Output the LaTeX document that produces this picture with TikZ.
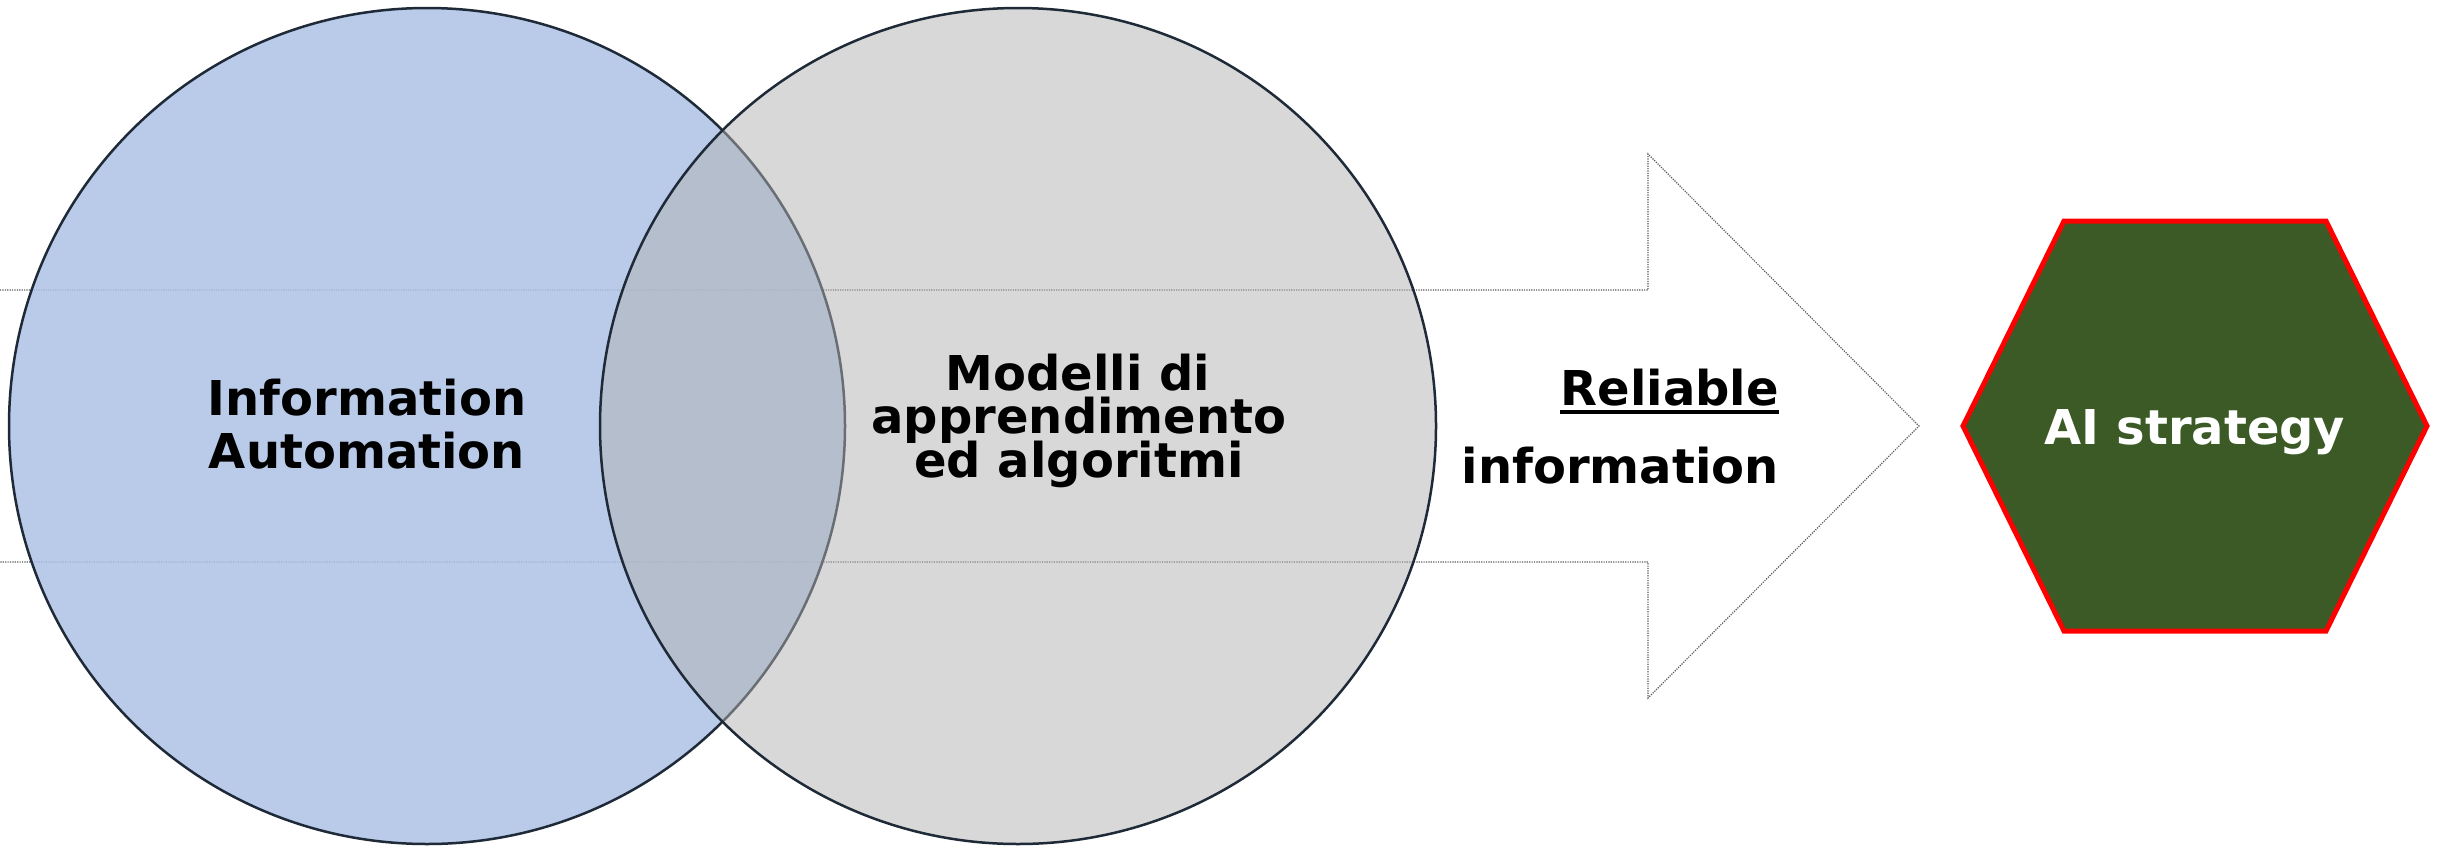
\documentclass[tikz,border=0pt]{standalone}
\usepackage{fontspec}
\setmainfont{DejaVu Sans}
\definecolor{bluefill}{HTML}{ADC2E6}
\definecolor{grayfill}{HTML}{B3B3B3}
\definecolor{edgecol}{HTML}{1F2A38}
\definecolor{hexgreen}{HTML}{3B5A25}
\begin{document}
\begin{tikzpicture}[x=1pt,y=-1pt,
  lbl/.style={font=\bfseries\fontsize{48}{53}\selectfont, inner sep=0pt, anchor=base},
  tight/.style={text height=30pt, text depth=4pt},
  venn/.style={circle, minimum size=836pt, inner sep=0pt, draw=edgecol, line width=2.5pt},
  arrowline/.style={draw=black!65, line width=1.2pt, dash pattern=on 1.2pt off 1.2pt}]
\useasboundingbox[fill=white] (0,0) rectangle (2440,846);
% big arrow
\coordinate (a0) at (0,290);
\coordinate (a1) at (1648,290);
\coordinate (a2) at (1648,154);
\coordinate (a3) at (1919,426);
\coordinate (a4) at (1648,698);
\coordinate (a5) at (1648,562);
\coordinate (a6) at (0,562);
\draw[arrowline, fill=white] (a0) -- (a1) -- (a2) -- (a3) -- (a4) -- (a5) -- (a6);
% venn circles
\node[venn, fill=bluefill, fill opacity=0.85] (ia) at (427,426) {};
\node[venn, fill=grayfill, fill opacity=0.5] (ml) at (1018,426) {};
% texts
\node[lbl] (ia1) at (367,415) {Information};
\node[lbl] (ia2) at (367,468) {Automation};
\node[lbl, tight] (ml1) at (1078,390) {Modelli di};
\node[lbl, tight] (ml2) at (1079,433) {apprendimento};
\node[lbl, tight] (ml3) at (1079,477) {ed algoritmi};
\node[lbl, anchor=base east] (ri1) at (1779,405) {Reliable};
\node[lbl, anchor=base east] (ri2) at (1779,483) {information};
\draw[line width=4pt] ([yshift=-7pt]ri1.base west) -- ([yshift=-7pt]ri1.base east);
% hexagon
\coordinate (h1) at (1963,426);
\coordinate (h2) at (2064,221);
\coordinate (h3) at (2326,221);
\coordinate (h4) at (2427,426);
\coordinate (h5) at (2326,631);
\coordinate (h6) at (2064,631);
\draw[fill=hexgreen, draw=red, line width=5pt, line join=miter] (h1) -- (h2) -- (h3) -- (h4) -- (h5) -- (h6) -- cycle;
\node[lbl, text=white] (ai) at (2195,444) {AI strategy};
\end{tikzpicture}
\end{document}
